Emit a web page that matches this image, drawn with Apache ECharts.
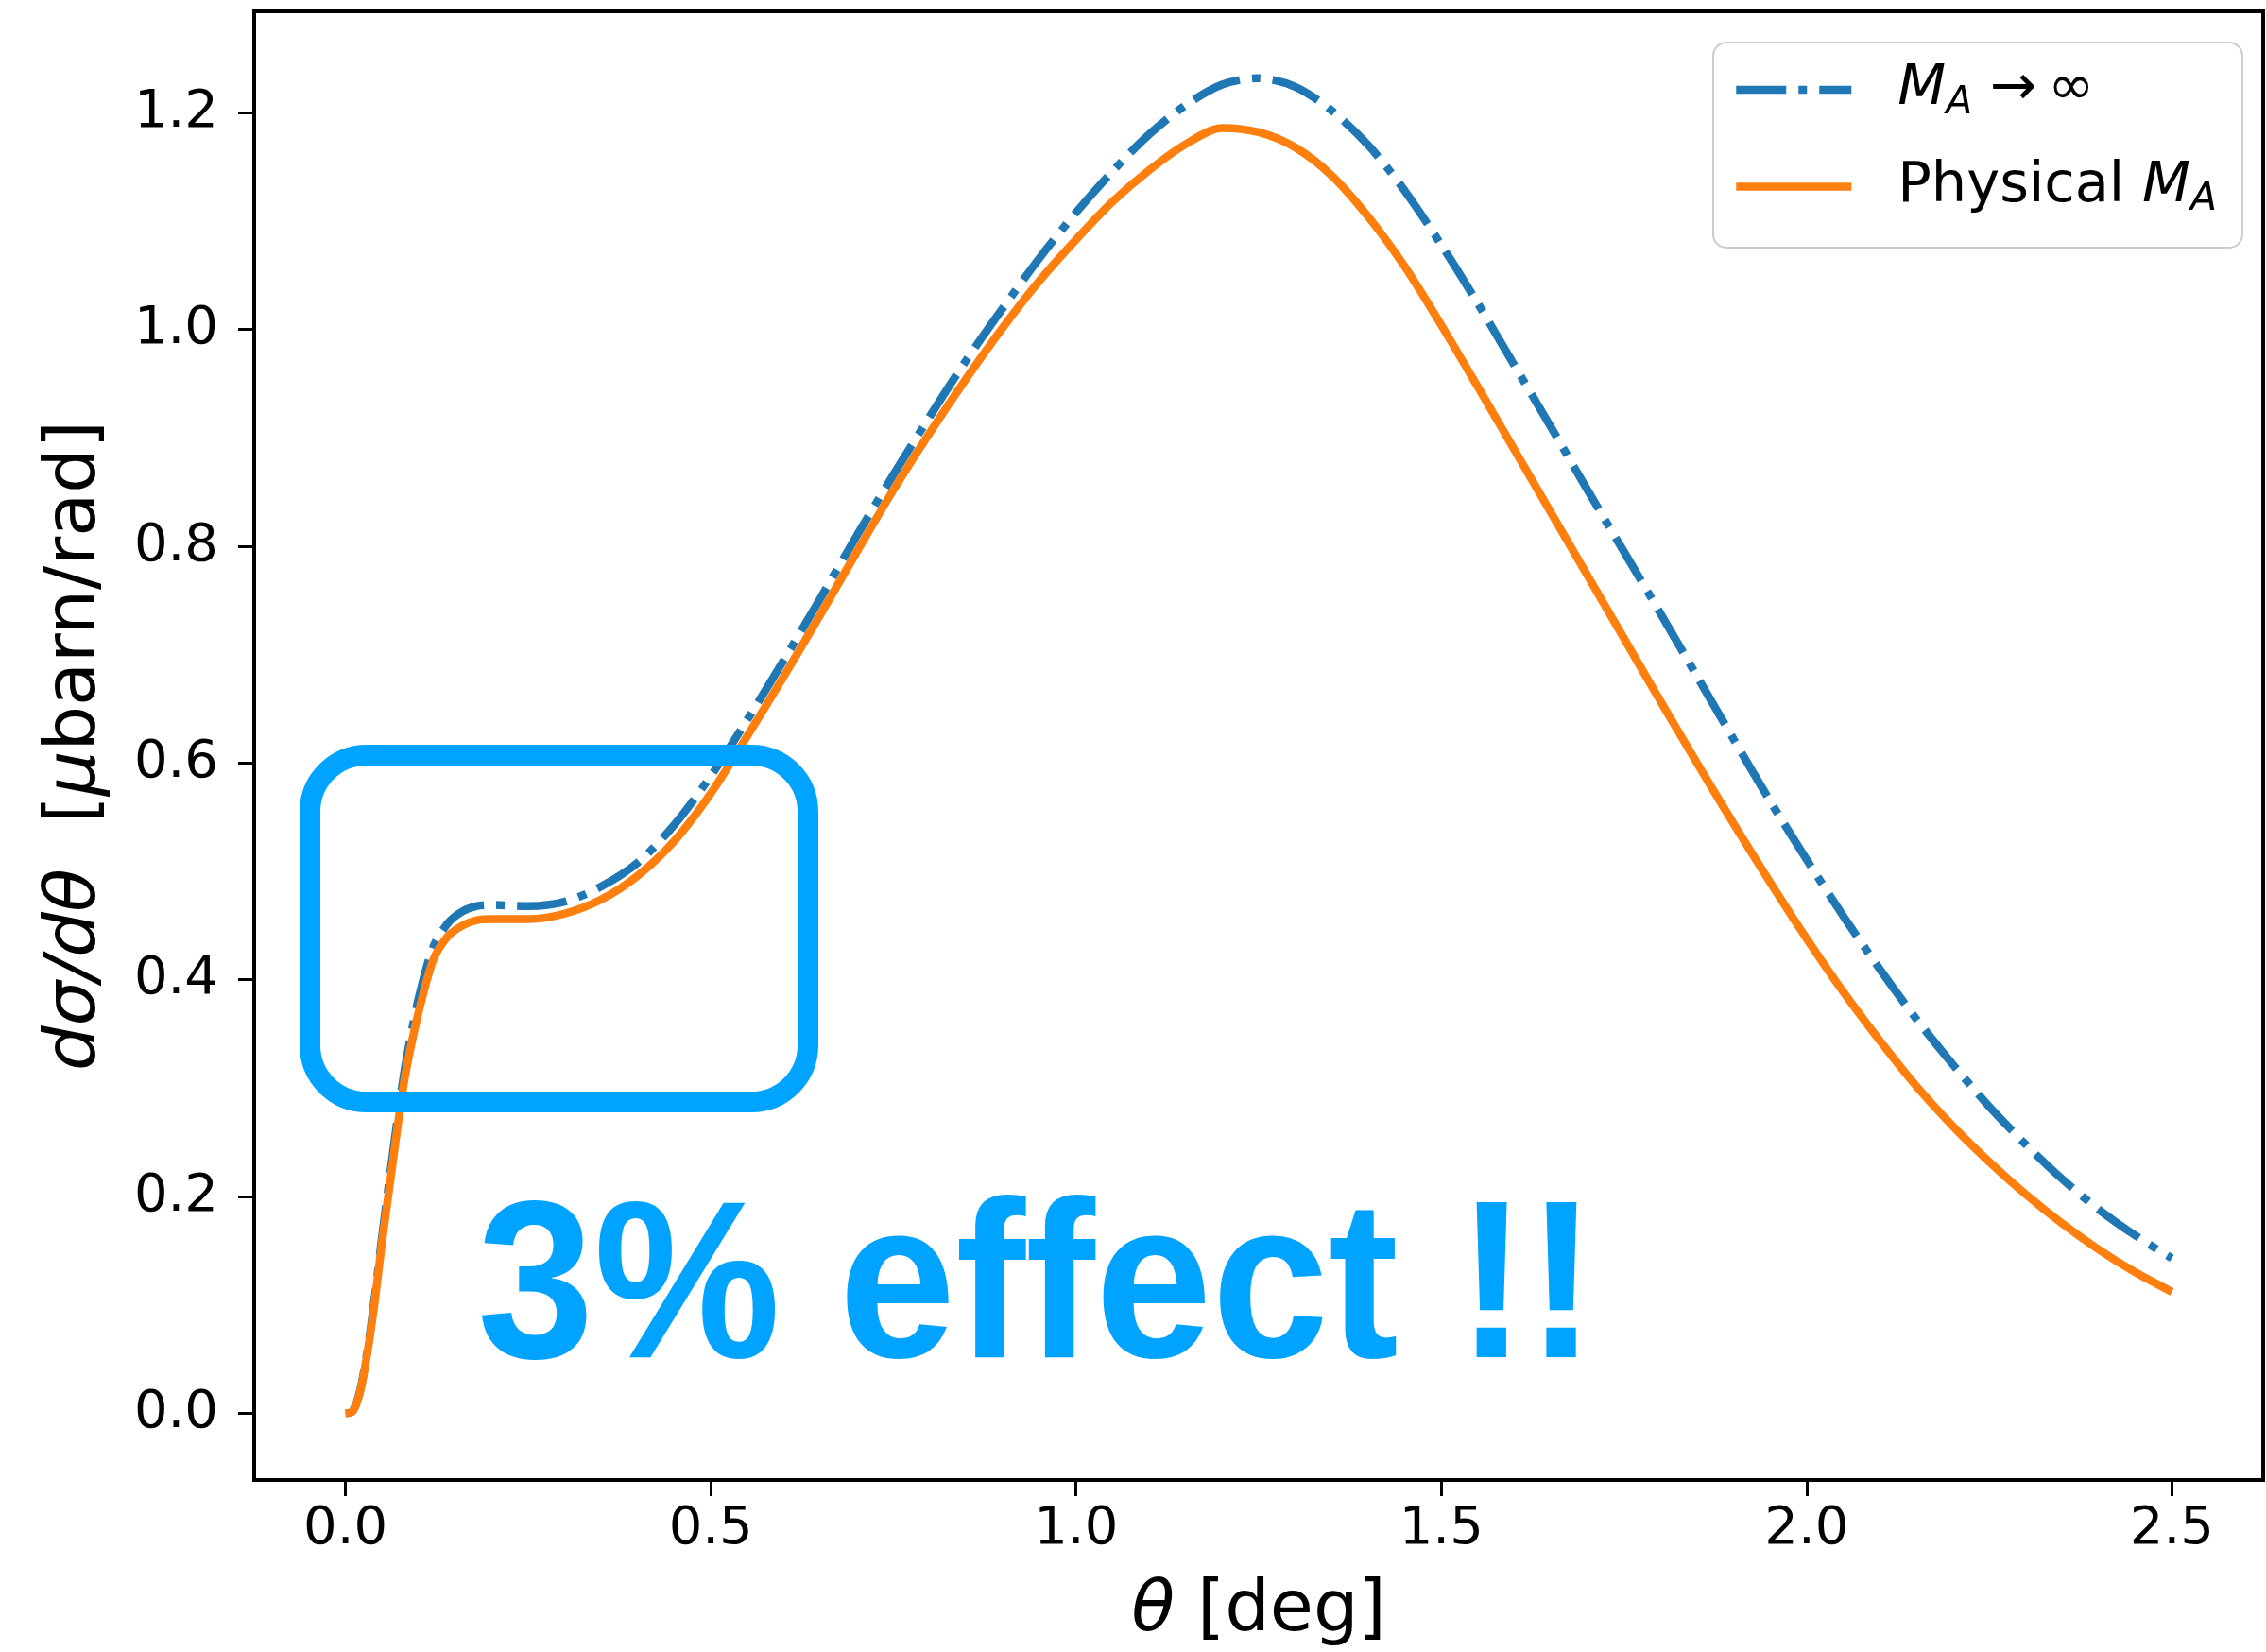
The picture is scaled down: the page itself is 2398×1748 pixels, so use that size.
<!DOCTYPE html>
<html>
<head>
<meta charset="utf-8">
<title>dsigma/dtheta</title>
<script src="https://cdn.jsdelivr.net/npm/echarts@6/dist/echarts.min.js"></script>
<style>
  html, body { margin: 0; padding: 0; background: #fff; }
  #chart { width: 2398px; height: 1748px; }
</style>
</head>
<body>
<div id="chart"></div>
<script>
// theta in degrees
const thetaDeg = [0, 0.01, 0.02, 0.03, 0.04, 0.05, 0.06, 0.07, 0.08, 0.09, 0.10,
  0.12, 0.14, 0.16, 0.18, 0.20, 0.25, 0.30, 0.35, 0.40, 0.45, 0.50, 0.55, 0.60,
  0.65, 0.70, 0.75, 0.80, 0.85, 0.90, 0.95, 1.00, 1.05, 1.10, 1.15, 1.20, 1.25,
  1.30, 1.35, 1.40, 1.45, 1.50, 1.55, 1.60, 1.65, 1.70, 1.75, 1.80, 1.85, 1.90,
  1.95, 2.00, 2.05, 2.10, 2.15, 2.20, 2.25, 2.30, 2.35, 2.40, 2.45, 2.50]

// M_A -> infinity (dash-dot)
const infiniteMA = [0.000, 0.002, 0.021, 0.058, 0.107, 0.163, 0.215, 0.266, 0.313, 0.350, 0.383,
  0.430, 0.452, 0.463, 0.468, 0.469, 0.468, 0.472, 0.486, 0.508, 0.543, 0.588, 0.640, 0.695,
  0.752, 0.810, 0.866, 0.920, 0.972, 1.020, 1.066, 1.108, 1.146, 1.180, 1.207, 1.226, 1.232,
  1.224, 1.202, 1.170, 1.128, 1.078, 1.024, 0.967, 0.910, 0.852, 0.795, 0.738, 0.680, 0.622,
  0.565, 0.511, 0.459, 0.410, 0.364, 0.322, 0.283, 0.248, 0.216, 0.188, 0.164, 0.143]

// physical M_A (solid)
const physicalMA = [0.000, 0.002, 0.020, 0.056, 0.103, 0.158, 0.208, 0.258, 0.305, 0.340, 0.370,
  0.418, 0.440, 0.450, 0.455, 0.456, 0.456, 0.461, 0.474, 0.496, 0.528, 0.572, 0.625, 0.680,
  0.737, 0.795, 0.852, 0.905, 0.955, 1.002, 1.045, 1.083, 1.118, 1.147, 1.171, 1.186, 1.182,
  1.168, 1.142, 1.104, 1.058, 1.004, 0.947, 0.889, 0.831, 0.773, 0.715, 0.657, 0.600, 0.544,
  0.490, 0.438, 0.389, 0.344, 0.302, 0.265, 0.232, 0.202, 0.175, 0.151, 0.130, 0.112]

const xTicks = [0, 0.5, 1.0, 1.5, 2.0, 2.5]
const yTicks = [0, 0.2, 0.4, 0.6, 0.8, 1.0, 1.2]

const FONT = '"DejaVu Sans", sans-serif'
const BLUE = '#1f77b4'
const ORANGE = '#ff7f0e'
const MARK = '#00a3ff'

const legendNames = {
  inf: '{i|M}{s|A} \u2192\u2009\u221e',
  phys: 'Physical {i|M}{s|A}',
}

function pairs(ys) {
  return thetaDeg.map((x, i) => [x, ys[i]])
}

function buildOption() {
  const axisBase = {
    type: 'value',
    axisLine: { show: true, onZero: false, lineStyle: { color: '#000', width: 4 } },
    axisTick: { show: true, length: 17, lineStyle: { color: '#000', width: 3 } },
    splitLine: { show: false },
    nameTextStyle: {
      color: '#000', fontFamily: FONT, fontSize: 75,
      rich: { i: { fontStyle: 'italic', fontFamily: FONT, fontSize: 75, color: '#000' } },
    },
  }
  return {
    backgroundColor: '#fff',
    animation: false,
    grid: { left: 269, right: 3, top: 12, bottom: 181, show: true, borderColor: '#000', borderWidth: 4 },
    legend: {
      orient: 'vertical',
      left: 1813,
      top: 45,
      padding: [20, 27, 30, 20],
      itemWidth: 122,
      itemHeight: 2,
      itemGap: 38,
      backgroundColor: 'rgba(255,255,255,0.8)',
      borderColor: '#cccccc',
      borderWidth: 2,
      borderRadius: 14,
      itemStyle: { opacity: 0 },
      lineStyle: { width: 8.5 },
      formatter: (name) => legendNames[name],
      textStyle: {
        color: '#000', fontFamily: FONT, fontSize: 59, lineHeight: 60,
        padding: [0, 0, 0, 44],
        rich: {
          i: { fontStyle: 'italic', fontFamily: FONT, fontSize: 59, color: '#000' },
          s: { fontStyle: 'italic', fontFamily: FONT, fontSize: 41, color: '#000', padding: [28, 0, 0, 0] },
        },
      },
      data: ['inf', 'phys'],
    },
    xAxis: {
      ...axisBase,
      min: -0.125,
      max: 2.625,
      axisTick: { ...axisBase.axisTick, customValues: xTicks },
      axisLabel: {
        customValues: xTicks, margin: 24, color: '#000', fontFamily: FONT, fontSize: 56,
        formatter: (v) => v.toFixed(1),
      },
      name: '{i|\u03b8} [deg]',
      nameLocation: 'middle',
      nameGap: 102,
    },
    yAxis: {
      ...axisBase,
      min: -0.0616,
      max: 1.2936,
      axisTick: { ...axisBase.axisTick, customValues: yTicks },
      axisLabel: {
        customValues: yTicks, margin: 38, color: '#000', fontFamily: FONT, fontSize: 56,
        formatter: (v) => v.toFixed(1),
      },
      name: '{i|d\u03c3/d\u03b8}  [{i|\u03bc}barn/rad]',
      nameLocation: 'middle',
      nameRotate: 90,
      nameGap: 151,
    },
    series: [
      {
        name: 'inf',
        type: 'line',
        data: pairs(infiniteMA),
        symbol: 'none',
        smooth: 0.3,
        lineStyle: { color: BLUE, width: 8.5, type: [53, 13, 9, 13], cap: 'butt' },
        itemStyle: { color: BLUE },
        z: 2,
      },
      {
        name: 'phys',
        type: 'line',
        data: pairs(physicalMA),
        symbol: 'none',
        smooth: 0.3,
        lineStyle: { color: ORANGE, width: 8.5 },
        itemStyle: { color: ORANGE },
        z: 3,
      },
    ],
    graphic: [
      {
        type: 'rect',
        shape: { x: 328, y: 799, width: 527, height: 367, r: 60 },
        style: { fill: 'none', stroke: MARK, lineWidth: 22 },
        z: 100,
      },
      {
        type: 'text',
        x: 505,
        y: 1370,
        scaleX: 0.933,
        style: {
          x: 0, y: 0, text: '3% effect !!',
          fontFamily: '"Liberation Sans", Arial, sans-serif', fontWeight: 'bold', fontSize: 238,
          fill: MARK, verticalAlign: 'middle', align: 'left',
        },
        z: 100,
      },
    ],
  }
}

const chart = echarts.init(document.getElementById('chart'), null, { renderer: 'canvas' })
chart.setOption(buildOption())
</script>
</body>
</html>
